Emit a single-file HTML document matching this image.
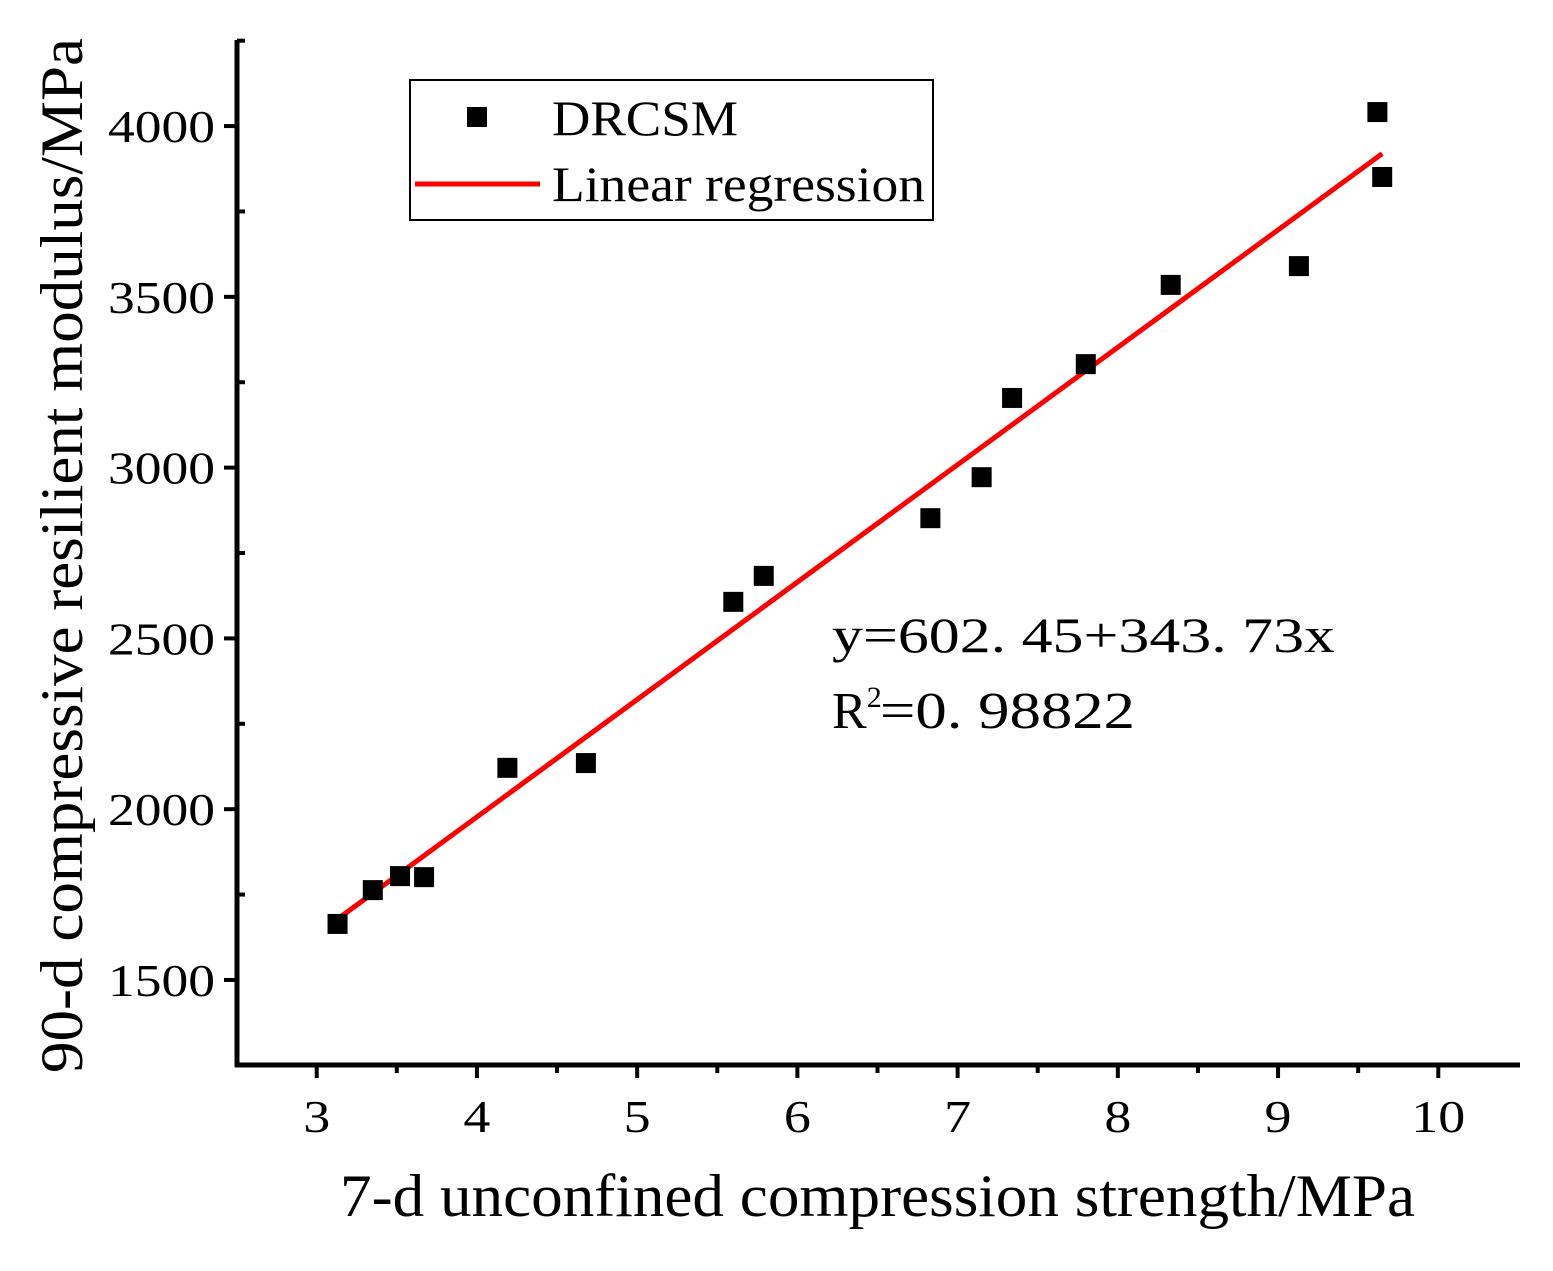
<!DOCTYPE html>
<html><head><meta charset="utf-8"><style>
html,body{margin:0;padding:0;background:#fff;}
svg text{font-family:"Liberation Serif","Noto Serif CJK SC",serif;fill:#000;}
</style></head><body>
<svg id="chart" width="1553" height="1266" viewBox="0 0 1553 1266" xmlns="http://www.w3.org/2000/svg">
<g id="axes"></g>
<g id="marks"></g>
<g>
  <rect x="410" y="80" width="523" height="140" fill="#fff" stroke="#000" stroke-width="2"/>
  <rect x="467" y="107" width="20" height="20" fill="#000"/>
  <text x="552" y="135" font-size="50" textLength="186" lengthAdjust="spacingAndGlyphs">DRCSM</text>
  <line x1="415" y1="184" x2="540" y2="184" stroke="#f00" stroke-width="5"/>
  <text x="552" y="201" font-size="50" textLength="373" lengthAdjust="spacingAndGlyphs">Linear regression</text>
</g>
<text x="832" y="652" font-size="50" textLength="503" lengthAdjust="spacingAndGlyphs">y=602. 45+343. 73x</text>
<text x="832" y="728" font-size="52">R<tspan font-size="30" dy="-21">2</tspan><tspan x="880" dy="21" textLength="255" lengthAdjust="spacingAndGlyphs">=0. 98822</tspan></text>
<text x="340" y="1216" font-size="60" textLength="1075" lengthAdjust="spacingAndGlyphs">7-d unconfined compression strength/MPa</text>
<text transform="translate(82,1073) rotate(-90)" font-size="60" textLength="1035" lengthAdjust="spacingAndGlyphs">90-d compressive resilient modulus/MPa</text>
</svg>
<script>
const xValues=[3.13,3.35,3.52,3.67,4.19,4.68,5.60,5.79,6.83,7.15,7.34,7.80,8.33,9.13,9.62,9.65];
const yValues=[1664,1763,1804,1801,2121,2135,2607,2683,2852,2972,3204,3303,3535,3590,4041,3851];
const intercept=602.45;
const slope=343.73;
const xTicks=[3,4,5,6,7,8,9,10];
const yTicks=[1500,2000,2500,3000,3500,4000];
const NS="http://www.w3.org/2000/svg";
const X0=235,X1=1520,Y0=1065,Y1=40;
const xMin=2.49,xMax=10.51,yMin=1251,yMax=4252;
function sx(v){return X0+(v-xMin)/(xMax-xMin)*(X1-X0);}
function sy(v){return Y0-(v-yMin)/(yMax-yMin)*(Y0-Y1);}
function mk(tag,attrs,parent){const e=document.createElementNS(NS,tag);for(const k in attrs)e.setAttribute(k,attrs[k]);parent.appendChild(e);return e;}
const axes=document.getElementById('axes'),marks=document.getElementById('marks');
let e;
e=mk('line',{x1:X0,y1:Y0,x2:X1,y2:Y0,stroke:'#000','stroke-width':5},axes);


e=mk('line',{x1:237,y1:Y0+2,x2:237,y2:Y1,stroke:'#000','stroke-width':5},axes);


xTicks.forEach((t,i)=>{
  const x=sx(t);
  e=mk('line',{x1:x,y1:Y0,x2:x,y2:Y0+13,stroke:'#000','stroke-width':4},axes);
  
  
  const s=String(t);
  e=mk('text',{x:x,y:Y0+67,'font-size':46,'text-anchor':'middle',textLength:s.length*27,lengthAdjust:'spacingAndGlyphs'},axes);e.textContent=s;
  
  
  if(i<xTicks.length-1){
    e=mk('line',{x1:sx(t+0.5),y1:Y0,x2:sx(t+0.5),y2:Y0+8,stroke:'#000','stroke-width':4},axes);
    
    
  }
});
yTicks.forEach((t)=>{
  const y=sy(t);
  e=mk('line',{x1:224,y1:y,x2:237,y2:y,stroke:'#000','stroke-width':4},axes);
  
  
  e=mk('text',{x:215,y:y+16,'font-size':46,'text-anchor':'end',textLength:107,lengthAdjust:'spacingAndGlyphs'},axes);e.textContent=t;
  
  
  e=mk('line',{x1:237,y1:sy(t+250),x2:245,y2:sy(t+250),stroke:'#000','stroke-width':4},axes);
  
  
});
const lx0=Math.min(...xValues),lx1=Math.max(...xValues);
e=mk('line',{x1:sx(lx0),y1:sy(intercept+slope*lx0),x2:sx(lx1),y2:sy(intercept+slope*lx1),stroke:'#f00','stroke-width':5},marks);


xValues.forEach((v,i)=>{
  e=mk('rect',{x:sx(v)-10,y:sy(yValues[i])-10,width:20,height:20,fill:'#000'},marks);
  
  
});
</script>
</body></html>
